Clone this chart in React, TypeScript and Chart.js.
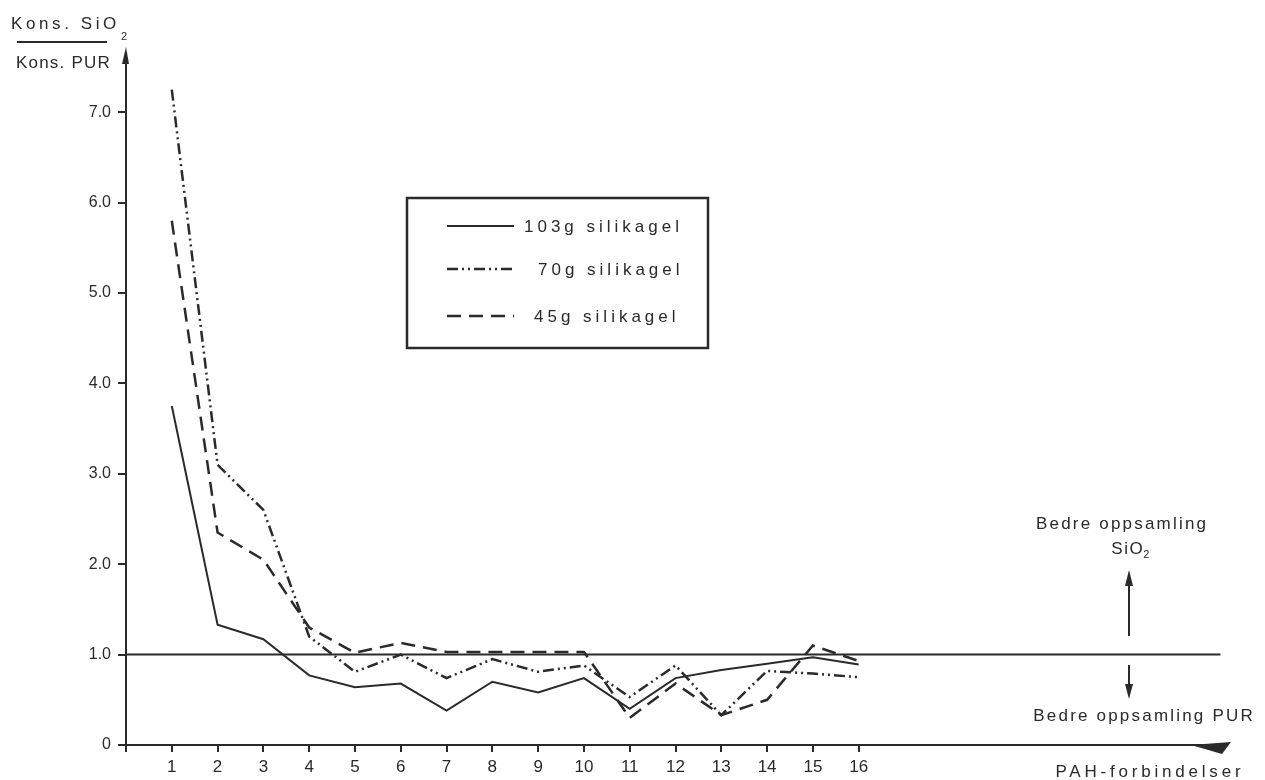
import { useEffect, useRef } from 'react';
import { Chart, registerables } from 'chart.js';

Chart.register(...registerables);

// ---- data ----
const compounds = [1, 2, 3, 4, 5, 6, 7, 8, 9, 10, 11, 12, 13, 14, 15, 16];
const silica103 = [3.75, 1.33, 1.17, 0.77, 0.64, 0.68, 0.38, 0.7, 0.58, 0.74, 0.4, 0.74, 0.83, 0.9, 0.97, 0.89];
const silica70 = [7.25, 3.1, 2.6, 1.2, 0.81, 1.0, 0.74, 0.95, 0.81, 0.88, 0.53, 0.88, 0.33, 0.82, 0.79, 0.75];
const silica45 = [5.8, 2.35, 2.05, 1.3, 1.02, 1.13, 1.03, 1.03, 1.03, 1.03, 0.3, 0.68, 0.33, 0.5, 1.1, 0.93];
const seriesLabels = ['103g silikagel', '70g silikagel', '45g silikagel'];
const yTicks = [0, 1, 2, 3, 4, 5, 6, 7];
const xTicks = [0, 1, 2, 3, 4, 5, 6, 7, 8, 9, 10, 11, 12, 13, 14, 15, 16];
const referenceLevel = 1.0;
const referenceSpan = [0, 23.9];
const yTitleTop = 'Kons. SiO';
const yTitleBottom = 'Kons. PUR';
const subscript = '2';
const xTitle = 'PAH-forbindelser';
const upperNote = 'Bedre oppsamling';
const upperNoteSub = 'SiO';
const lowerNote = 'Bedre oppsamling PUR';

const INK = '#2a2a2a';
const FONT = '"Liberation Sans", Arial, Helvetica, sans-serif';

function spacedText(
  ctx: CanvasRenderingContext2D,
  s: string,
  x: number,
  y: number,
  size: number,
  spacing: number,
  align: 'left' | 'center' = 'left'
) {
  ctx.font = `${size}px ${FONT}`;
  (ctx as any).letterSpacing = `${spacing}px`;
  ctx.textBaseline = 'middle';
  ctx.textAlign = 'left';
  const w = ctx.measureText(s).width - spacing;
  const sx = align === 'center' ? x - w / 2 : x;
  ctx.fillText(s, sx, y);
  (ctx as any).letterSpacing = '0px';
  return sx + w + spacing;
}

const decor = {
  id: 'decor',
  afterDraw(chart: any) {
    const ctx: CanvasRenderingContext2D = chart.ctx;
    const { left, right, top, bottom } = chart.chartArea;
    ctx.save();
    ctx.fillStyle = INK;
    ctx.strokeStyle = INK;
    ctx.setLineDash([]);

    // y-axis arrow head
    ctx.beginPath();
    ctx.moveTo(left, top - 11);
    ctx.lineTo(left - 4, top + 6);
    ctx.lineTo(left + 3, top + 6);
    ctx.closePath();
    ctx.fill();

    // x-axis arrow wedge
    ctx.beginPath();
    ctx.moveTo(right - 34, bottom);
    ctx.lineTo(right + 6, bottom - 3);
    ctx.lineTo(right - 3, bottom + 9);
    ctx.closePath();
    ctx.fill();

    // y title (fraction)
    const end = spacedText(ctx, yTitleTop, 11, 24, 17, 3.6);
    ctx.font = `11px ${FONT}`;
    ctx.textBaseline = 'middle';
    ctx.fillText(subscript, end + 1, 37);
    ctx.lineWidth = 2;
    ctx.beginPath();
    ctx.moveTo(17, 42);
    ctx.lineTo(107, 42);
    ctx.stroke();
    spacedText(ctx, yTitleBottom, 16, 63, 17, 1.2);

    // x title
    spacedText(ctx, xTitle, 1148, 772, 17, 3.8, 'center');

    // notes on the right
    const cx = 1129;
    spacedText(ctx, upperNote, 1121, 524, 17, 2.2, 'center');
    const e2 = spacedText(ctx, upperNoteSub, 1127, 549, 17, 1.5, 'center');
    ctx.font = `11px ${FONT}`;
    ctx.textBaseline = 'middle';
    ctx.fillText(subscript, e2 - 1, 555);
    spacedText(ctx, lowerNote, 1143, 716, 17, 2.2, 'center');

    ctx.lineWidth = 2;
    ctx.beginPath();
    ctx.moveTo(cx, 636);
    ctx.lineTo(cx, 582);
    ctx.moveTo(cx, 665);
    ctx.lineTo(cx, 688);
    ctx.stroke();
    ctx.beginPath();
    ctx.moveTo(cx, 570);
    ctx.lineTo(cx - 4, 586);
    ctx.lineTo(cx + 4, 586);
    ctx.closePath();
    ctx.fill();
    ctx.beginPath();
    ctx.moveTo(cx, 699);
    ctx.lineTo(cx - 4, 684);
    ctx.lineTo(cx + 4, 684);
    ctx.closePath();
    ctx.fill();

    // legend box
    ctx.lineWidth = 2.5;
    ctx.strokeRect(407, 198, 301, 150);
    const rows = [
      { y: 226, tx: 524 },
      { y: 269, tx: 538 },
      { y: 316, tx: 534 },
    ];
    rows.forEach((r, i) => {
      const ds = chart.data.datasets[i];
      ctx.lineWidth = ds.borderWidth;
      ctx.setLineDash(ds.borderDash || []);
      ctx.beginPath();
      ctx.moveTo(447, r.y);
      ctx.lineTo(514, r.y);
      ctx.stroke();
      ctx.setLineDash([]);
      spacedText(ctx, seriesLabels[i], r.tx, r.y + 1, 17, 4);
    });
    ctx.restore();
  },
};

export default function App() {
  const ref = useRef<HTMLCanvasElement | null>(null);
  useEffect(() => {
    if (!ref.current) return;
    const pts = (arr: number[]) => compounds.map((c, i) => ({ x: c, y: arr[i] }));
    const chart = new Chart(ref.current, {
      type: 'line',
      data: {
        datasets: [
          {
            label: seriesLabels[0],
            data: pts(silica103),
            borderColor: INK,
            borderWidth: 2,
            borderDash: [],
            pointRadius: 0,
            tension: 0,
          },
          {
            label: seriesLabels[1],
            data: pts(silica70),
            borderColor: INK,
            borderWidth: 2.5,
            borderDash: [11, 4, 2, 4, 2, 4],
            pointRadius: 0,
            tension: 0,
          },
          {
            label: seriesLabels[2],
            data: pts(silica45),
            borderColor: INK,
            borderWidth: 2.5,
            borderDash: [14, 8],
            pointRadius: 0,
            tension: 0,
          },
          {
            label: 'ref',
            data: referenceSpan.map((x) => ({ x, y: referenceLevel })),
            borderColor: INK,
            borderWidth: 2,
            pointRadius: 0,
            tension: 0,
          },
        ],
      },
      options: {
        animation: false,
        responsive: false,
        events: [],
        layout: { padding: { left: 0, top: 58, right: 40, bottom: 0 } },
        plugins: {
          legend: { display: false },
          tooltip: { enabled: false },
          title: { display: false },
        },
        scales: {
          x: {
            type: 'linear',
            min: 0,
            max: 24,
            afterFit: (s: any) => {
              s.height = 35;
            },
            afterBuildTicks: (s: any) => {
              s.ticks = xTicks.map((v) => ({ value: v }));
            },
            border: { display: true, color: INK, width: 2 },
            grid: { display: true, drawOnChartArea: false, drawTicks: true, tickLength: 7, color: INK, lineWidth: 2 },
            ticks: {
              color: INK,
              font: { family: FONT, size: 17 },
              padding: 5,
              maxRotation: 0,
              autoSkip: false,
              callback: (v: any) => (v === 0 ? '' : String(v)),
            },
          },
          y: {
            type: 'linear',
            min: 0,
            max: 7.6,
            afterFit: (s: any) => {
              s.width = 126;
            },
            afterBuildTicks: (s: any) => {
              s.ticks = yTicks.map((v) => ({ value: v }));
            },
            border: { display: true, color: INK, width: 2 },
            grid: { display: true, drawOnChartArea: false, drawTicks: true, tickLength: 8, color: INK, lineWidth: 2 },
            ticks: {
              color: INK,
              font: { family: FONT, size: 16 },
              padding: 7,
              autoSkip: false,
              callback: (v: any) => (v === 0 ? '0' : Number(v).toFixed(1)),
            },
          },
        },
      },
      plugins: [decor],
    });
    return () => chart.destroy();
  }, []);
  return (
    <canvas
      ref={ref}
      width={1265}
      height={780}
      style={{ position: 'fixed', left: 0, top: 0, width: 1265, height: 780, background: '#fff' }}
    />
  );
}
